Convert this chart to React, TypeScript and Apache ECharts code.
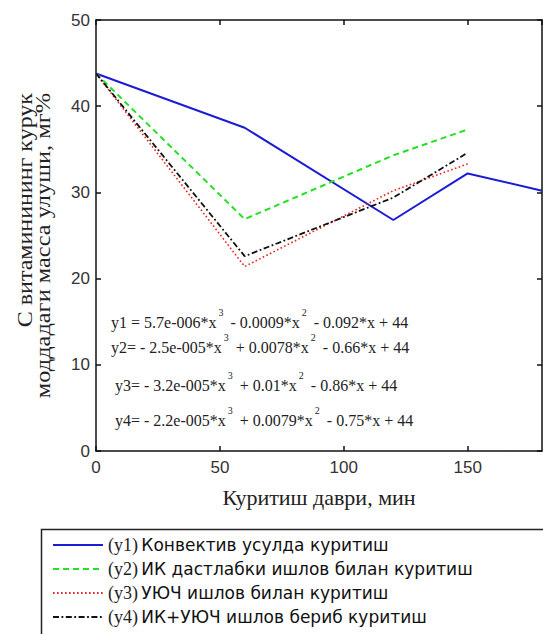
import React, { useEffect, useRef } from "react";
import * as echarts from "echarts";

// Drying time, min
const timeY1 = [0, 60, 120, 150, 180];
const timeOther = [0, 60, 120, 150];
// Vitamin C content, mg%
const y1 = [43.8, 37.5, 26.8, 32.2, 30.2];
const y2 = [43.8, 26.9, 34.3, 37.3];
const y3 = [43.8, 21.4, 30.2, 33.3];
const y4 = [43.8, 22.6, 29.4, 34.6];

const seriesNames = [
  "(y1) Конвектив усулда куритиш",
  "(y2) ИК дастлабки ишлов билан куритиш",
  "(y3) УЮЧ ишлов билан куритиш",
  "(y4) ИК+УЮЧ ишлов бериб куритиш",
];

const equations = [
  ["y1 = 5.7e-006*x", "3", " - 0.0009*x", "2", " - 0.092*x + 44"],
  ["y2= - 2.5e-005*x", "3", " + 0.0078*x", "2", " - 0.66*x + 44"],
  ["y3= - 3.2e-005*x", "3", " + 0.01*x", "2", " - 0.86*x + 44"],
  ["y4= - 2.2e-005*x", "3", " + 0.0079*x", "2", " - 0.75*x + 44"],
];

const xLabel = "Куритиш даври, мин";
const yLabelLine1 = "С витаминининг курук";
const yLabelLine2 = "моддадаги масса улуши, мг%";

const SERIF = "'Liberation Serif', 'Times New Roman', serif";
const SANS = "'Liberation Sans', Arial, sans-serif";
const LEG = "'DejaVu Sans', Verdana, sans-serif";

export default function App() {
  const ref = useRef<HTMLDivElement>(null);
  useEffect(() => {
    if (!ref.current) return;
    const chart = echarts.init(ref.current, undefined, { renderer: "svg" });
    const pair = (xs: number[], ys: number[]) => xs.map((x, i) => [x, ys[i]]);
    const eqPos = [
      [111, 322],
      [111, 347],
      [115, 385],
      [115, 420],
    ];
    const eqGraphics = equations.map((e, i) => ({
      type: "text",
      x: eqPos[i][0],
      y: eqPos[i][1],
      style: {
        text: `{n|${e[0]}}{s|${e[1]}}{n|${e[2]}}{s|${e[3]}}{n|${e[4]}}`,
        verticalAlign: "middle",
        align: "left",
        rich: {
          n: { fontSize: 16, fontFamily: SERIF, fill: "#222", lineHeight: 30, verticalAlign: "middle" },
          s: { fontSize: 10, fontFamily: SERIF, fill: "#222", lineHeight: 12, verticalAlign: "top", padding: [0, 3, 0, 2] },
        },
      },
    }));
    const axisLineStyle = { color: "#111", width: 1.5 };
    chart.setOption({
      animation: false,
      backgroundColor: "#fff",
      grid: { left: 96, right: 1, top: 20, bottom: 183, containLabel: false },
      xAxis: [
        {
          type: "value",
          min: 0,
          max: 180,
          interval: 50,
          name: xLabel,
          nameLocation: "middle",
          nameGap: 35,
          nameTextStyle: { fontFamily: SERIF, fontSize: 22, color: "#222" },
          axisLine: { show: true, onZero: false, lineStyle: axisLineStyle },
          axisTick: { show: true, inside: true, length: 5, lineStyle: axisLineStyle },
          axisLabel: { showMaxLabel: false, fontFamily: SANS, fontSize: 17, color: "#333", margin: 8 },
          splitLine: { show: false },
        },
        {
          type: "value",
          position: "top",
          min: 0,
          max: 180,
          interval: 50,
          axisLine: { show: true, onZero: false, lineStyle: axisLineStyle },
          axisTick: { show: true, inside: true, length: 5, lineStyle: axisLineStyle },
          axisLabel: { show: false },
          splitLine: { show: false },
        },
      ],
      yAxis: [
        {
          type: "value",
          min: 0,
          max: 50,
          interval: 10,
          axisLine: { show: true, onZero: false, lineStyle: axisLineStyle },
          axisTick: { show: true, inside: true, length: 5, lineStyle: axisLineStyle },
          axisLabel: { fontFamily: SANS, fontSize: 17, color: "#333", margin: 6 },
          splitLine: { show: false },
        },
        {
          type: "value",
          position: "right",
          min: 0,
          max: 50,
          interval: 10,
          axisLine: { show: true, onZero: false, lineStyle: axisLineStyle },
          axisTick: { show: true, inside: true, length: 5, lineStyle: axisLineStyle },
          axisLabel: { show: false },
          splitLine: { show: false },
        },
      ],
      legend: {
        orient: "vertical",
        left: 47,
        top: 536,
        padding: [0, 5],
        itemGap: 6,
        itemWidth: 50,
        itemHeight: 14,
        data: seriesNames,
        itemStyle: { opacity: 0, color: "rgba(0,0,0,0)", borderWidth: 0 },
        formatter: (name: string) => {
          const m = name.match(/^(\(y\d\))\s(.*)$/);
          return m ? `{a|${m[1]}} {b|${m[2]}}` : name;
        },
        textStyle: {
          rich: {
            a: { fontFamily: SERIF, fontSize: 18, color: "#222", lineHeight: 18 },
            b: { fontFamily: LEG, fontSize: 17, color: "#111", lineHeight: 18 },
          },
        },
      },
      graphic: [
        {
          type: "rect",
          shape: { x: 41.5, y: 529.5, width: 560, height: 120 },
          style: { fill: "none", stroke: "#222", lineWidth: 1.5 },
          z: -1,
        },
        {
          type: "text",
          x: 25,
          y: 93,
          rotation: Math.PI / 2,
          scaleX: 1.2,
          style: {
            text: yLabelLine1,
            align: "right",
            verticalAlign: "middle",
            fontFamily: SERIF,
            fontSize: 20,
            fill: "#222",
          },
        },
        {
          type: "text",
          x: 43,
          y: 93,
          rotation: Math.PI / 2,
          scaleX: 1.22,
          style: {
            text: yLabelLine2,
            align: "right",
            verticalAlign: "middle",
            fontFamily: SERIF,
            fontSize: 20,
            fill: "#222",
          },
        },
        ...eqGraphics,
      ],
      series: [
        {
          name: seriesNames[0],
          type: "line",
          data: pair(timeY1, y1),
          symbol: "none",
          showSymbol: false,
          color: "#1c1cd4",
          lineStyle: { color: "#1c1cd4", width: 2, type: "solid" },
        },
        {
          name: seriesNames[1],
          type: "line",
          data: pair(timeOther, y2),
          symbol: "none",
          showSymbol: false,
          color: "#22e022",
          lineStyle: { color: "#22e022", width: 2, type: [6, 4] },
        },
        {
          name: seriesNames[2],
          type: "line",
          data: pair(timeOther, y3),
          symbol: "none",
          showSymbol: false,
          color: "#f02020",
          lineStyle: { color: "#f02020", width: 1.6, type: [1.6, 2.4] },
        },
        {
          name: seriesNames[3],
          type: "line",
          data: pair(timeOther, y4),
          symbol: "none",
          showSymbol: false,
          color: "#111",
          lineStyle: { color: "#111", width: 1.8, type: [6, 2.5, 1.8, 2.5] },
        },
      ],
    });
    return () => chart.dispose();
  }, []);
  return <div ref={ref} style={{ width: 543, height: 634, position: "absolute", left: 0, top: 0 }} />;
}
